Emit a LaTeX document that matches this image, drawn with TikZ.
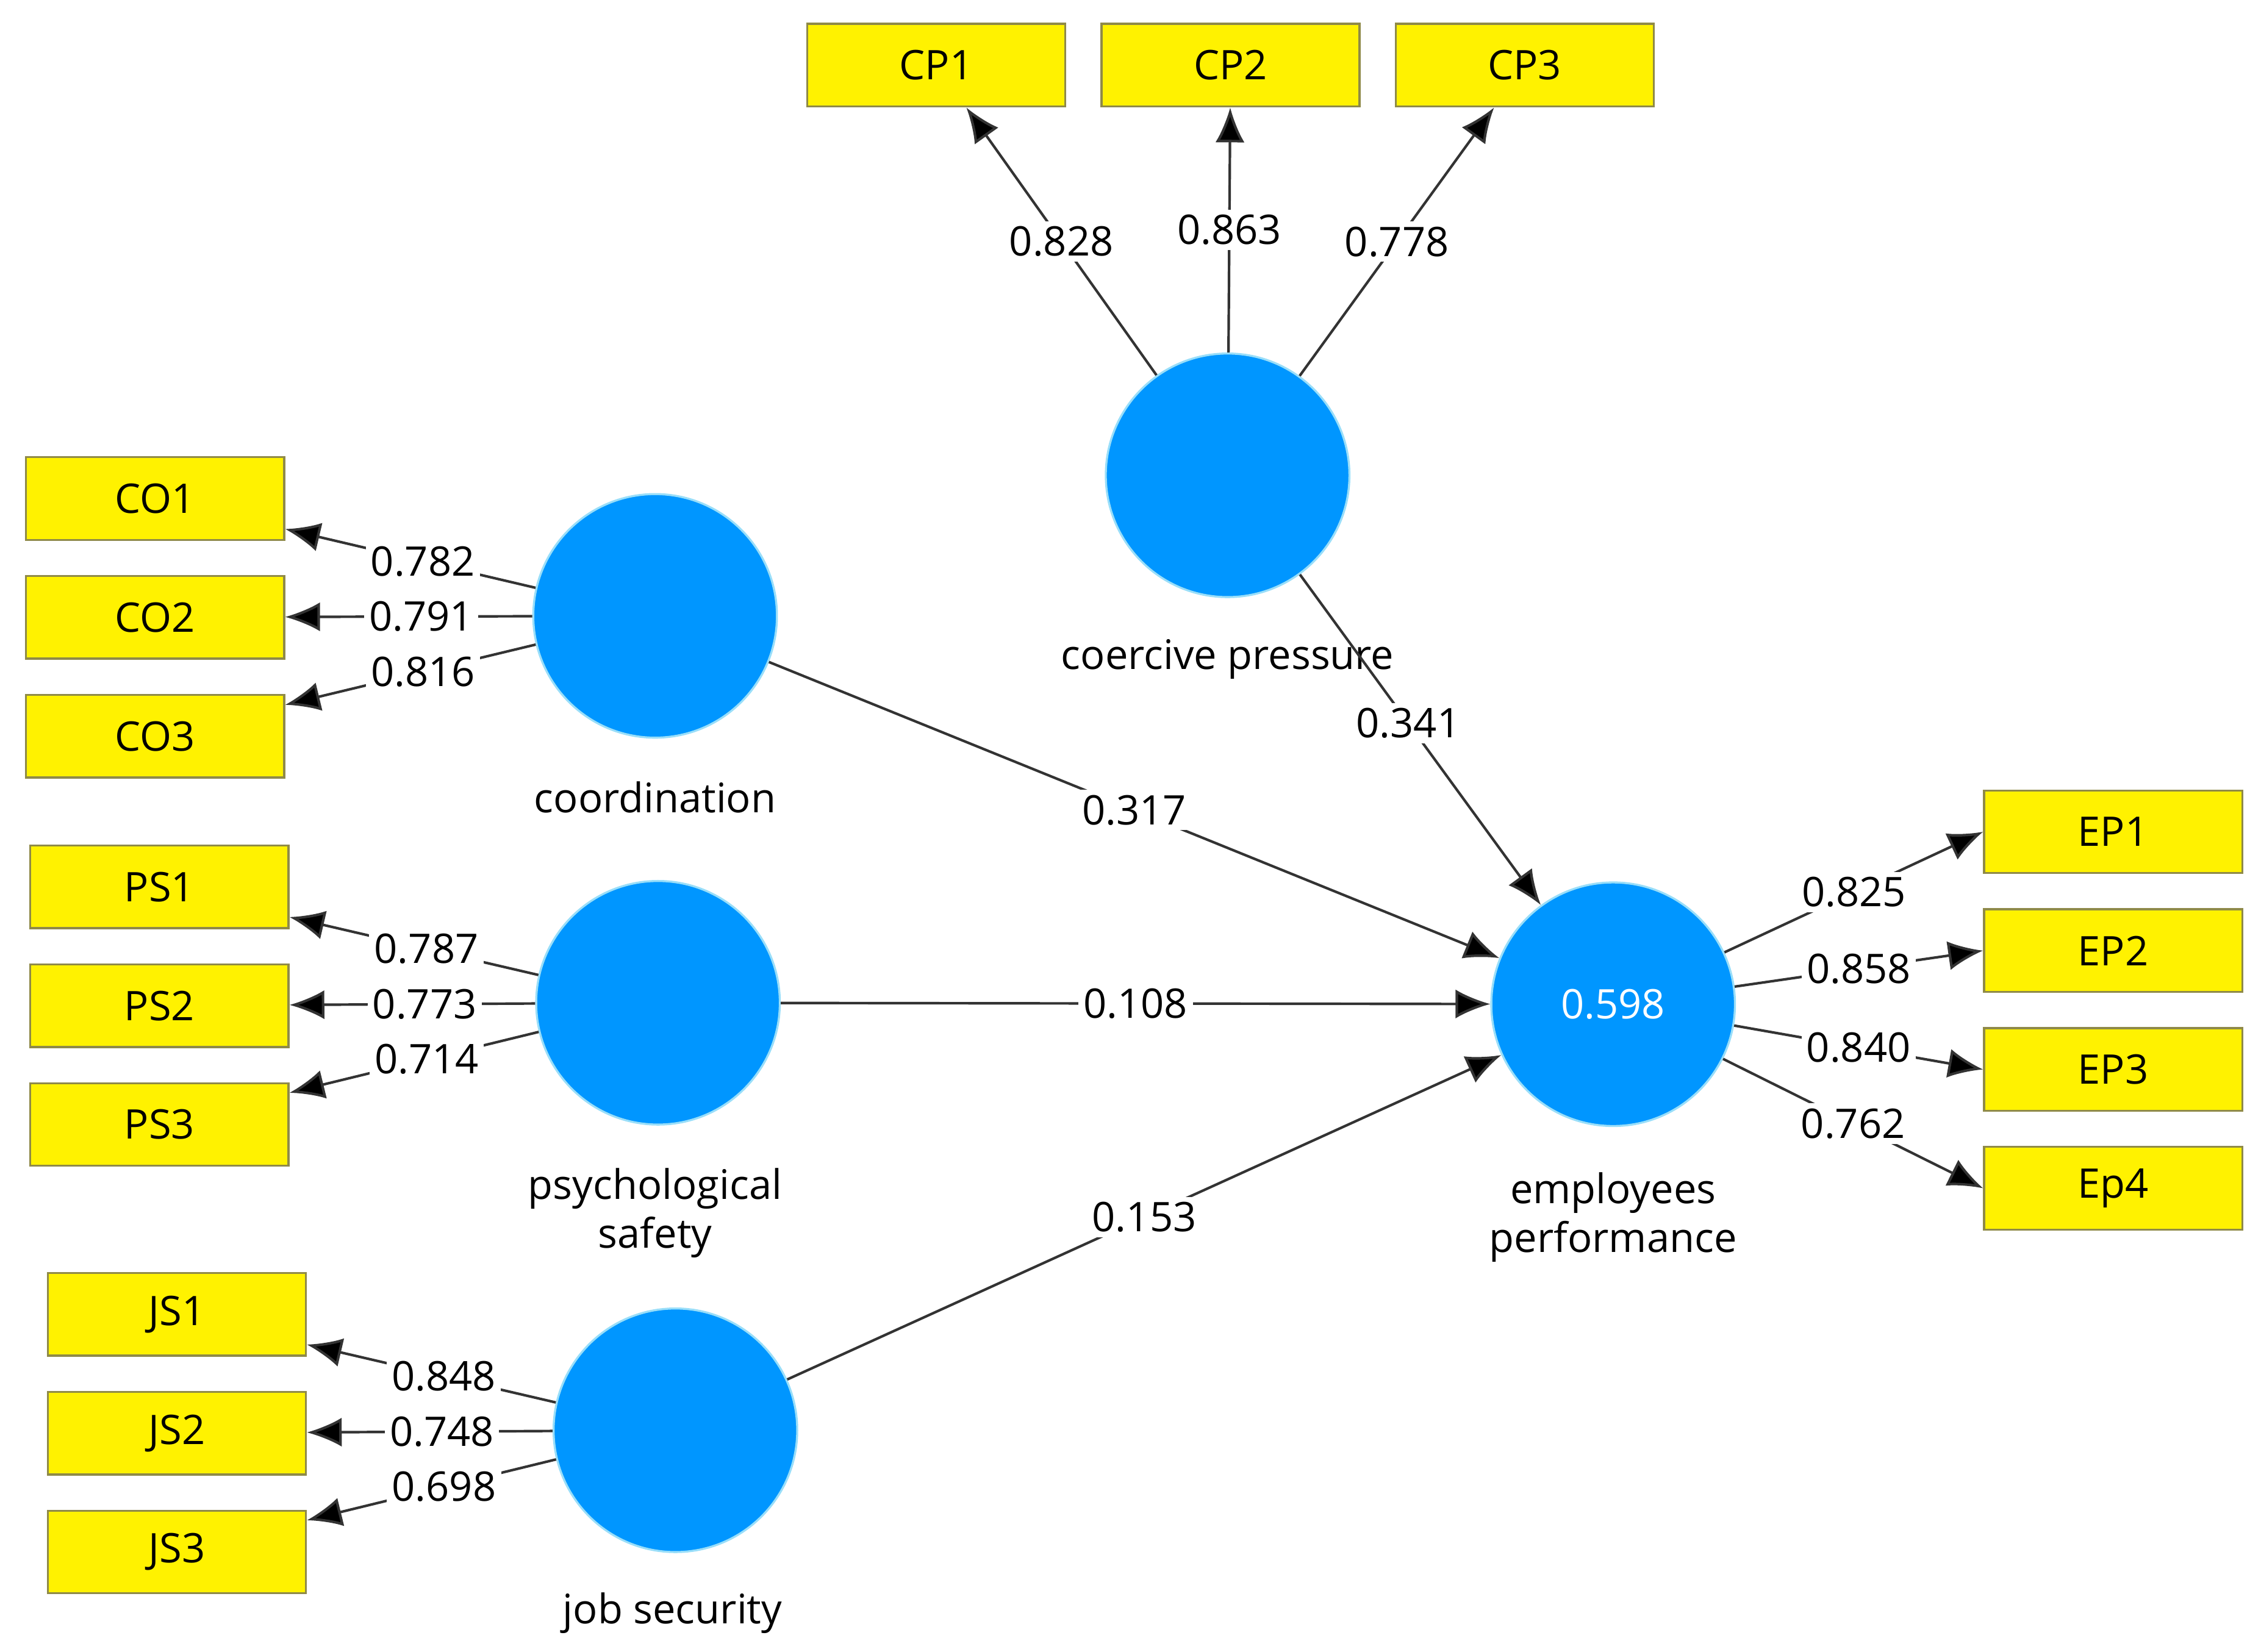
\documentclass[tikz,border=0pt]{standalone}
\usepackage{fontspec}
\setmainfont{Open Sans}
\usetikzlibrary{arrows.meta}
\begin{document}
\begin{tikzpicture}[x=0.01cm,y=-0.01cm,
    every node/.style = {font=\fontsize{8}{9.5}\selectfont, align=center},
    ind/.style={draw=black!50!yellow, fill=yellow, minimum width=1.78cm, minimum height=0.57cm, inner sep=0pt},
    lat/.style={circle, draw=cyan!40, fill=cyan!60!blue!90, fill={rgb,255:red,0;green,150;blue,255}, minimum size=1.68cm, inner sep=0pt, text=white},
    lbl/.style={fill=white, inner sep=1pt},
    arr/.style={-{Latex[length=2.4mm,width=2mm]}, draw=black!80, line width=0.5pt}]
    \useasboundingbox (0,0) rectangle (1560,1140);
    % latent variables
    \node[lat] (cp) at (847,328) {};
    \node[lat] (co) at (452,425) {};
    \node[lat] (ps) at (454,692) {};
    \node[lat] (js) at (466,987) {};
    \node[lat] (ep) at (1113,693) {0.598};
    \node at (847,455) {coercive pressure};
    \node at (452,550) {coordination};
    \node at (452,837) {psychological\\safety};
    \node at (464,1113) {job security};
    \node at (1113,840) {employees\\performance};
    % indicators
    \node[ind] (cp1) at (646,45) {CP1};
    \node[ind] (cp2) at (849,45) {CP2};
    \node[ind] (cp3) at (1052,45) {CP3};
    \node[ind] (co1) at (107,344) {CO1};
    \node[ind] (co2) at (107,426) {CO2};
    \node[ind] (co3) at (107,508) {CO3};
    \node[ind] (ps1) at (110,612) {PS1};
    \node[ind] (ps2) at (110,694) {PS2};
    \node[ind] (ps3) at (110,776) {PS3};
    \node[ind] (js1) at (122,907) {JS1};
    \node[ind] (js2) at (122,989) {JS2};
    \node[ind] (js3) at (122,1071) {JS3};
    \node[ind] (ep1) at (1458,574) {EP1};
    \node[ind] (ep2) at (1458,656) {EP2};
    \node[ind] (ep3) at (1458,738) {EP3};
    \node[ind] (ep4) at (1458,820) {Ep4};
    % loadings
    \path[arr]
        (cp) edge node[lbl] {0.828} (cp1)
        (cp) edge node[lbl] {0.863} (cp2)
        (cp) edge node[lbl] {0.778} (cp3)
        (co) edge node[lbl,pos=0.45] {0.782} (co1)
        (co) edge node[lbl,pos=0.45] {0.791} (co2)
        (co) edge node[lbl,pos=0.45] {0.816} (co3)
        (ps) edge node[lbl,pos=0.45] {0.787} (ps1)
        (ps) edge node[lbl,pos=0.45] {0.773} (ps2)
        (ps) edge node[lbl,pos=0.45] {0.714} (ps3)
        (js) edge node[lbl,pos=0.45] {0.848} (js1)
        (js) edge node[lbl,pos=0.45] {0.748} (js2)
        (js) edge node[lbl,pos=0.45] {0.698} (js3)
        (ep) edge node[lbl,pos=0.5] {0.825} (ep1.west)
        (ep) edge node[lbl,pos=0.5] {0.858} (ep2.west)
        (ep) edge node[lbl,pos=0.5] {0.840} (ep3.west)
        (ep) edge node[lbl,pos=0.5] {0.762} (ep4.west);
    % paths
    \path[arr]
        (cp) edge node[lbl,pos=0.45] {0.341} (ep)
        (co) edge node[lbl,pos=0.5] {0.317} (ep)
        (ps) edge node[lbl,pos=0.5] {0.108} (ep)
        (js) edge node[lbl,pos=0.5] {0.153} (ep);
\end{tikzpicture}
\end{document}
